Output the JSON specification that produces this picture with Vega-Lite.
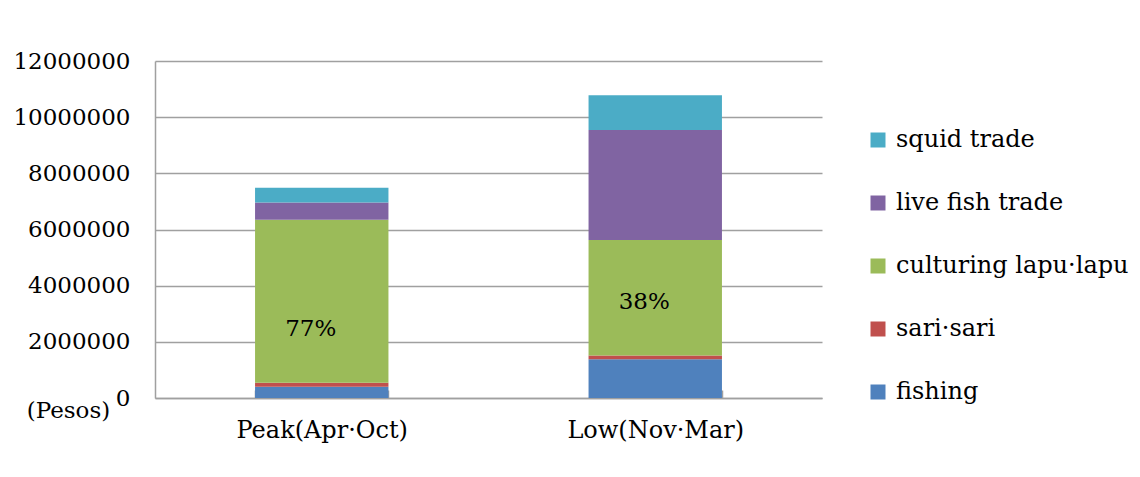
{
  "$schema": "https://vega.github.io/schema/vega-lite/v6.json",
  "width": 667,
  "height": 337,
  "autosize": {"type": "none"},
  "padding": {"left": 155, "top": 61, "right": 318, "bottom": 79},
  "background": "white",
  "config": {
    "view": {"stroke": null},
    "font": "DejaVu Serif"
  },
  "data": {
    "values": [
      {"season": "Peak(Apr·Oct)", "source": "fishing", "order": 1, "amount": 400000, "label": ""},
      {"season": "Peak(Apr·Oct)", "source": "sari·sari", "order": 2, "amount": 145000, "label": ""},
      {"season": "Peak(Apr·Oct)", "source": "culturing lapu·lapu", "order": 3, "amount": 5800000, "label": "77%"},
      {"season": "Peak(Apr·Oct)", "source": "live fish trade", "order": 4, "amount": 620000, "label": ""},
      {"season": "Peak(Apr·Oct)", "source": "squid trade", "order": 5, "amount": 520000, "label": ""},
      {"season": "Low(Nov·Mar)", "source": "fishing", "order": 1, "amount": 1380000, "label": ""},
      {"season": "Low(Nov·Mar)", "source": "sari·sari", "order": 2, "amount": 130000, "label": ""},
      {"season": "Low(Nov·Mar)", "source": "culturing lapu·lapu", "order": 3, "amount": 4120000, "label": "38%"},
      {"season": "Low(Nov·Mar)", "source": "live fish trade", "order": 4, "amount": 3910000, "label": ""},
      {"season": "Low(Nov·Mar)", "source": "squid trade", "order": 5, "amount": 1240000, "label": ""}
    ]
  },
  "transform": [
    {"stack": "amount", "groupby": ["season"], "sort": [{"field": "order", "order": "ascending"}], "as": ["y0", "y1"]}
  ],
  "encoding": {
    "x": {
      "field": "season",
      "type": "nominal",
      "sort": ["Peak(Apr·Oct)", "Low(Nov·Mar)"],
      "scale": {"paddingInner": 0.6, "paddingOuter": 0.3},
      "axis": {
        "title": null,
        "labelAngle": 0,
        "labelFont": "DejaVu Serif",
        "labelFontSize": 24,
        "labelColor": "black",
        "labelPadding": 28,
        "domainColor": "#a0a0a0",
        "domainWidth": 1.5,
        "tickBand": "extent",
        "tickColor": "#a0a0a0",
        "tickWidth": 1.5,
        "tickSize": -8
      }
    }
  },
  "layer": [
    {
      "mark": {"type": "bar"},
      "encoding": {
        "y": {
          "field": "y0",
          "type": "quantitative",
          "scale": {"domain": [0, 12000000]},
          "axis": {
            "values": [0, 2000000, 4000000, 6000000, 8000000, 10000000, 12000000],
            "format": "d",
            "title": "(Pesos)",
            "titleAngle": 0,
            "titleX": -87,
            "titleY": 349,
            "titleAlign": "center",
            "titleBaseline": "middle",
            "titleFont": "DejaVu Serif",
            "titleFontSize": 23,
            "titleFontWeight": "normal",
            "titleColor": "black",
            "labelFont": "DejaVu Serif",
            "labelFontSize": 23,
            "labelColor": "black",
            "labelPadding": 25,
            "ticks": false,
            "domainColor": "#a0a0a0",
            "domainWidth": 1.5,
            "gridColor": "#a0a0a0",
            "gridWidth": 1.5
          }
        },
        "y2": {"field": "y1"},
        "color": {
          "field": "source",
          "type": "nominal",
          "scale": {
            "domain": ["squid trade", "live fish trade", "culturing lapu·lapu", "sari·sari", "fishing"],
            "range": ["#4BACC6", "#8064A2", "#9BBB59", "#C0504D", "#4F81BD"]
          },
          "legend": {
            "title": null,
            "orient": "none",
            "legendX": 711,
            "legendY": 67,
            "padding": 0,
            "symbolType": "square",
            "symbolSize": 225,
            "symbolStrokeWidth": 0,
            "symbolOpacity": 1,
            "labelFont": "DejaVu Serif",
            "labelFontSize": 24,
            "labelColor": "black",
            "labelOffset": 6,
            "rowPadding": 39,
            "labelLimit": 400
          }
        }
      }
    },
    {
      "transform": [{"filter": "datum.label != ''"}],
      "mark": {"type": "text", "font": "DejaVu Serif", "fontSize": 23, "color": "black", "baseline": "middle", "align": "center", "dx": -11, "dy": -54},
      "encoding": {
        "y": {"field": "y0", "type": "quantitative"},
        "text": {"field": "label"}
      }
    }
  ]
}
